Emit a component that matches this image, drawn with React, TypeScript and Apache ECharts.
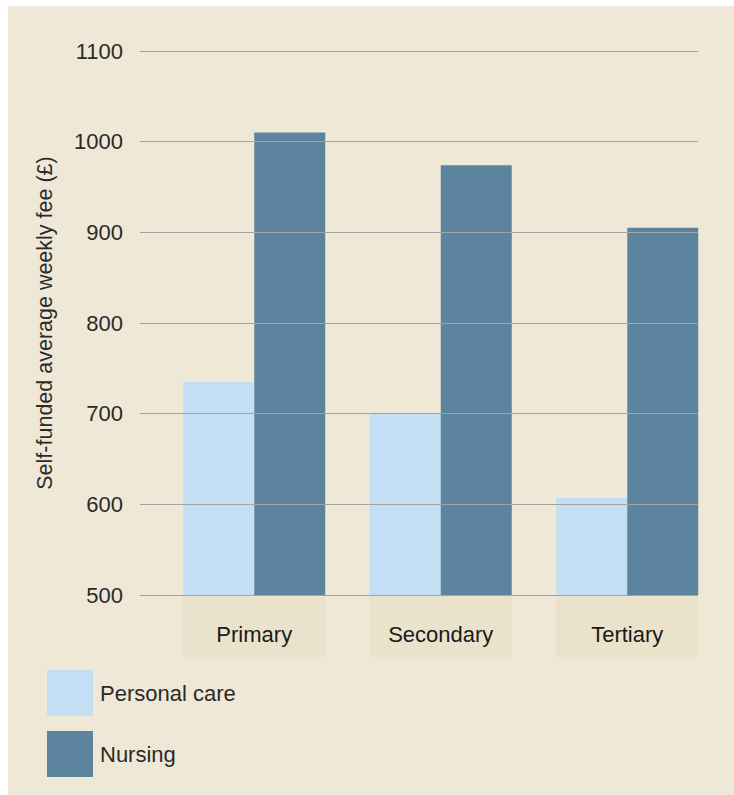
import React, { useEffect, useRef } from "react";
import * as echarts from "echarts";

const categories = ["Primary", "Secondary", "Tertiary"];
const personalCare = [735, 700, 607];
const nursing = [1010, 974, 905];
const seriesNames = ["Personal care", "Nursing"];
const yMin = 500;
const yMax = 1100;
const yInterval = 100;

const FONT = "'Liberation Sans', Arial, Helvetica, sans-serif";

export default function App() {
  const ref = useRef<HTMLDivElement>(null);
  useEffect(() => {
    if (!ref.current) return;
    const chart = echarts.init(ref.current, null, { renderer: "svg" });
    chart.setOption({
      animation: false,
      backgroundColor: "#EFE8D6",
      textStyle: { fontFamily: FONT },
      grid: [
        { left: 132, top: 45, width: 558, height: 544 },
        { left: 153, top: 45, width: 559.5, height: 544 },
      ],
      legend: {
        orient: "vertical",
        left: 39,
        top: 664,
        padding: 0,
        itemWidth: 46,
        itemHeight: 46,
        itemGap: 15,
        icon: "rect",
        data: seriesNames,
        textStyle: { fontSize: 22, color: "#2a2a2a", fontFamily: FONT, padding: [0, 0, 0, 2] },
      },
      xAxis: [
        { type: "category", gridIndex: 0, data: categories, show: false },
        {
          type: "category",
          gridIndex: 1,
          data: categories,
          axisLine: { show: false },
          axisTick: { show: false },
          axisLabel: {
            margin: 1,
            color: "#1a1a1a",
            fontSize: 22,
            fontFamily: FONT,
            backgroundColor: "#EAE2CB",
            width: 142,
            height: 40,
            lineHeight: 40,
            align: "center",
            padding: [18, 0, 3, 0],
          },
        },
      ],
      yAxis: [
        {
          type: "value",
          gridIndex: 0,
          min: yMin,
          max: yMax,
          interval: yInterval,
          z: 10,
          axisLine: { show: false },
          axisTick: { show: false },
          splitLine: { show: true, lineStyle: { color: "#A3A3A3", width: 1 } },
          axisLabel: {
            margin: 17,
            fontSize: 22,
            color: "#2a2a2a",
            fontFamily: FONT,
            formatter: (v: number) => String(v),
          },
          name: "Self-funded average weekly fee (£)",
          nameLocation: "middle",
          nameGap: 84,
          nameTextStyle: { fontSize: 21.5, color: "#2a2a2a", fontFamily: FONT },
        },
        {
          type: "value",
          gridIndex: 1,
          min: yMin,
          max: yMax,
          interval: yInterval,
          show: false,
          splitLine: { show: false },
        },
      ],
      series: [
        {
          name: seriesNames[0],
          type: "bar",
          xAxisIndex: 1,
          yAxisIndex: 1,
          data: personalCare,
          barWidth: 71,
          barGap: "0%",
          itemStyle: { color: "#C2DFF3" },
        },
        {
          name: seriesNames[1],
          type: "bar",
          xAxisIndex: 1,
          yAxisIndex: 1,
          data: nursing,
          barWidth: 71,
          barGap: "0%",
          itemStyle: { color: "#5D849E" },
        },
      ],
    });
    return () => chart.dispose();
  }, []);
  return (
    <div
      ref={ref}
      style={{ position: "absolute", left: 8, top: 6, width: 726, height: 789 }}
    />
  );
}
